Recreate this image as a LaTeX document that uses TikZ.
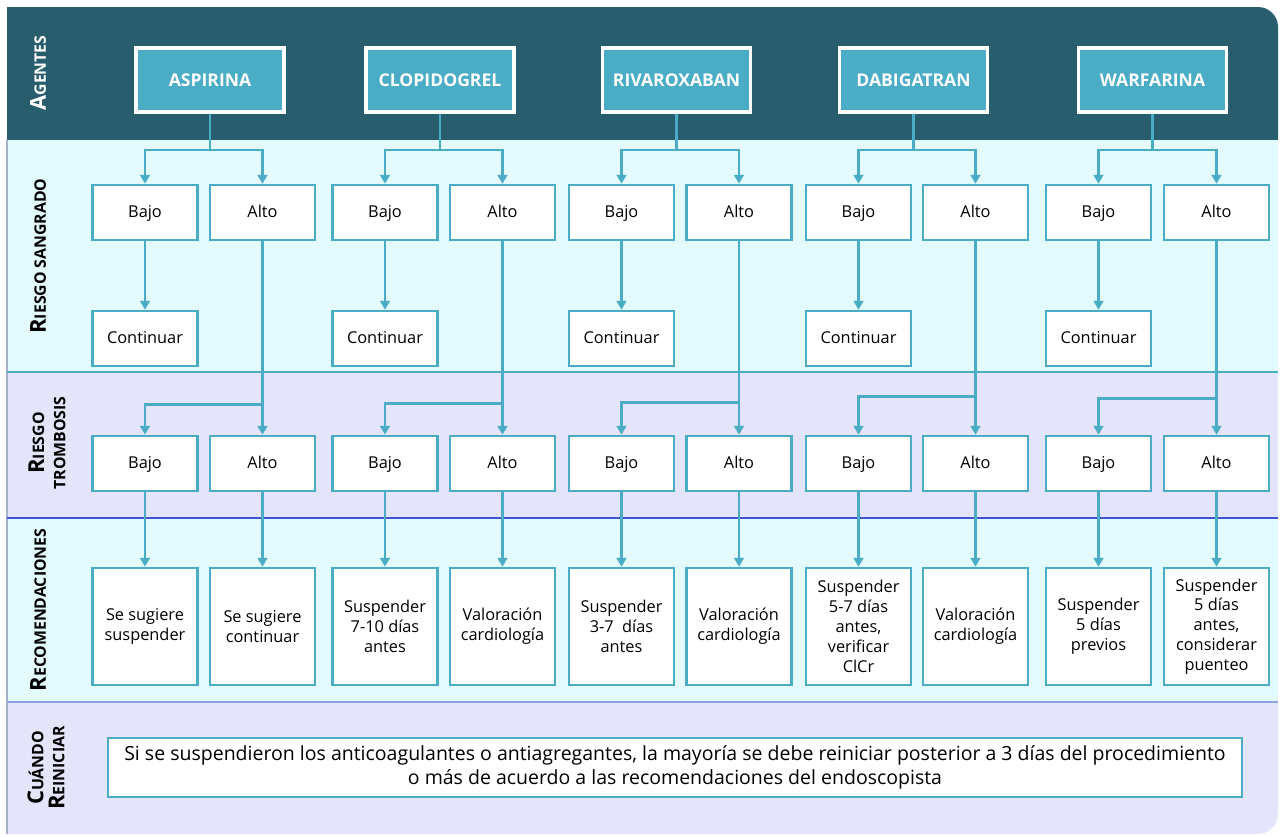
\documentclass[tikz,border=0pt]{standalone}
\usepackage{fontspec}
\setmainfont{Open Sans}
\usetikzlibrary{arrows.meta}
\definecolor{agband}{HTML}{275D6D}
\definecolor{agfill}{HTML}{4BACC6}
\definecolor{cyanband}{HTML}{E3FBFD}
\definecolor{lavband}{HTML}{E4E4FA}
\definecolor{linecol}{HTML}{4BACC6}
\definecolor{sepblue}{HTML}{3F55CF}
\definecolor{seplav}{HTML}{8FA2E4}
\definecolor{edgecol}{HTML}{A7AECB}
\newcommand{\capit}[2]{{\fontsize{12.5}{14}\selectfont #1}{\fontsize{9}{11}\selectfont #2}}

\tikzset{
	agente/.style={draw=white, line width=2pt, fill=agfill, text=white, font=\bfseries\fontsize{10}{12}\selectfont, minimum width=2.96cm, minimum height=1.28cm, inner sep=0pt},
	caja/.style={draw=linecol, line width=1.5pt, fill=white, minimum width=2.1cm, minimum height=1.1cm, inner sep=0pt, font=\fontsize{9.3}{11.3}\selectfont},
	corta/.style={caja, text height=1.45ex, text depth=0.4ex},
	reco/.style={caja, minimum height=2.34cm, align=center},
	flecha/.style={draw=linecol, line width=1.4pt, -{Triangle[length=5pt,width=5.5pt]}},
	etiqueta/.style={rotate=90, font=\bfseries, align=center}
}

\begin{document}
\begin{tikzpicture}[x=0.02cm, y=-0.02cm]
		%%%%% START %%%%%
		\useasboundingbox (0,0) rectangle (1280,836);
		
		\fill[agband] (7,140) -- (7,7) -- (1258,7) arc[start angle=90, end angle=0, radius=0.4cm] -- (1278,140) -- cycle;
		\fill[cyanband] (7,140) rectangle (1278,372);
		\fill[lavband] (7,372) rectangle (1278,518);
		\fill[cyanband] (7,518) rectangle (1278,702);
		\fill[lavband] (7,702) -- (1278,702) -- (1278,814) arc[start angle=0, end angle=-90, radius=0.4cm] -- (7,834) -- cycle;
		
		\draw[edgecol, line width=1pt] (7,140) -- (7,834);
		\draw[linecol, line width=1.2pt] (7,372) -- (1278,372);
		\draw[sepblue, line width=1pt] (7,518) -- (1278,518);
		\draw[seplav, line width=1pt] (7,702) -- (1278,702);
		
		\node[etiqueta, text=white] (lagentes) at (38,73) {\capit{A}{GENTES}};
		\node[etiqueta] (lsangrado) at (38,256) {\capit{R}{IESGO SANGRADO}};
		\node[etiqueta] (ltrombosis) at (47,443) {\capit{R}{IESGO}\\{\fontsize{9}{11}\selectfont TROMBOSIS}};
		\node[etiqueta] (lrecom) at (38,610) {\capit{R}{ECOMENDACIONES}};
		\node[etiqueta] (lreiniciar) at (46,768) {\capit{C}{UÁNDO}\\\capit{R}{EINICIAR}};
		
		\node[agente] (a1) at (210,80) {ASPIRINA};
		\node[agente] (a2) at (440,80) {CLOPIDOGREL};
		\node[agente] (a3) at (676.5,80) {RIVAROXABAN};
		\node[agente] (a4) at (913.5,80) {DABIGATRAN};
		\node[agente] (a5) at (1152.5,80) {WARFARINA};
		
		\node[corta] (s1b) at (145,212.5) {Bajo};
		\node[corta] (s1a) at (262.5,212.5) {Alto};
		\node[corta] (s2b) at (385,212.5) {Bajo};
		\node[corta] (s2a) at (502.5,212.5) {Alto};
		\node[corta] (s3b) at (621.5,212.5) {Bajo};
		\node[corta] (s3a) at (739,212.5) {Alto};
		\node[corta] (s4b) at (858.5,212.5) {Bajo};
		\node[corta] (s4a) at (975.5,212.5) {Alto};
		\node[corta] (s5b) at (1098.5,212.5) {Bajo};
		\node[corta] (s5a) at (1216.5,212.5) {Alto};
		
		\node[corta] (c1) at (145,338.5) {Continuar};
		\node[corta] (c2) at (385,338.5) {Continuar};
		\node[corta] (c3) at (621.5,338.5) {Continuar};
		\node[corta] (c4) at (858.5,338.5) {Continuar};
		\node[corta] (c5) at (1098.5,338.5) {Continuar};
		
		\node[corta] (t1b) at (145,463.5) {Bajo};
		\node[corta] (t1a) at (262.5,463.5) {Alto};
		\node[corta] (t2b) at (385,463.5) {Bajo};
		\node[corta] (t2a) at (502.5,463.5) {Alto};
		\node[corta] (t3b) at (621.5,463.5) {Bajo};
		\node[corta] (t3a) at (739,463.5) {Alto};
		\node[corta] (t4b) at (858.5,463.5) {Bajo};
		\node[corta] (t4a) at (975.5,463.5) {Alto};
		\node[corta] (t5b) at (1098.5,463.5) {Bajo};
		\node[corta] (t5a) at (1216.5,463.5) {Alto};
		
		\node[reco] (r1b) at (145,626.5) {Se sugiere\\suspender};
		\node[reco] (r1a) at (262.5,626.5) {Se sugiere\\continuar};
		\node[reco] (r2b) at (385,626.5) {Suspender\\7-10 días\\antes};
		\node[reco] (r2a) at (502.5,626.5) {Valoración\\cardiología};
		\node[reco] (r3b) at (621.5,626.5) {Suspender\\3-7 \ días\\antes};
		\node[reco] (r3a) at (739,626.5) {Valoración\\cardiología};
		\node[reco] (r4b) at (858.5,626.5) {Suspender\\5-7 días\\antes,\\verificar\\ClCr};
		\node[reco] (r4a) at (975.5,626.5) {Valoración\\cardiología};
		\node[reco] (r5b) at (1098.5,626.5) {Suspender\\5 días\\previos};
		\node[reco] (r5a) at (1216.5,626.5) {Suspender\\5 días\\antes,\\considerar\\puenteo};
		
		\node[caja, minimum width=22.68cm, minimum height=1.18cm, align=center, font=\fontsize{11.1}{13.6}\selectfont] (reinicio) at (675,767.5)
			{Si se suspendieron los anticoagulantes o antiagregantes, la mayoría se debe reiniciar posterior a 3 días del procedimiento\\o más de acuerdo a las recomendaciones del endoscopista};
		
		\draw[flecha] (a1.south) -- ++(0,36) -| (s1b.north);
		\draw[flecha] (a1.south) -- ++(0,36) -| (s1a.north);
		\draw[flecha] (a2.south) -- ++(0,36) -| (s2b.north);
		\draw[flecha] (a2.south) -- ++(0,36) -| (s2a.north);
		\draw[flecha] (a3.south) -- ++(0,36) -| (s3b.north);
		\draw[flecha] (a3.south) -- ++(0,36) -| (s3a.north);
		\draw[flecha] (a4.south) -- ++(0,36) -| (s4b.north);
		\draw[flecha] (a4.south) -- ++(0,36) -| (s4a.north);
		\draw[flecha] (a5.south) -- ++(0,36) -| (s5b.north);
		\draw[flecha] (a5.south) -- ++(0,36) -| (s5a.north);
		
		\draw[flecha] (s1b) -- (c1);
		\draw[flecha] (s2b) -- (c2);
		\draw[flecha] (s3b) -- (c3);
		\draw[flecha] (s4b) -- (c4);
		\draw[flecha] (s5b) -- (c5);
		
		\draw[flecha] (s1a.south) -- (t1a.north);
		\draw[flecha] (s1a.south) -- ++(0,163) -| (t1b.north);
		\draw[flecha] (s2a.south) -- (t2a.north);
		\draw[flecha] (s2a.south) -- ++(0,162) -| (t2b.north);
		\draw[flecha] (s3a.south) -- (t3a.north);
		\draw[flecha] (s3a.south) -- ++(0,161) -| (t3b.north);
		\draw[flecha] (s4a.south) -- (t4a.north);
		\draw[flecha] (s4a.south) -- ++(0,155) -| (t4b.north);
		\draw[flecha] (s5a.south) -- (t5a.north);
		\draw[flecha] (s5a.south) -- ++(0,157) -| (t5b.north);
		
		\draw[flecha] (t1b) -- (r1b);
		\draw[flecha] (t1a) -- (r1a);
		\draw[flecha] (t2b) -- (r2b);
		\draw[flecha] (t2a) -- (r2a);
		\draw[flecha] (t3b) -- (r3b);
		\draw[flecha] (t3a) -- (r3a);
		\draw[flecha] (t4b) -- (r4b);
		\draw[flecha] (t4a) -- (r4a);
		\draw[flecha] (t5b) -- (r5b);
		\draw[flecha] (t5a) -- (r5a);
		
		%%%%% END %%%%%
\end{tikzpicture}
\end{document}
